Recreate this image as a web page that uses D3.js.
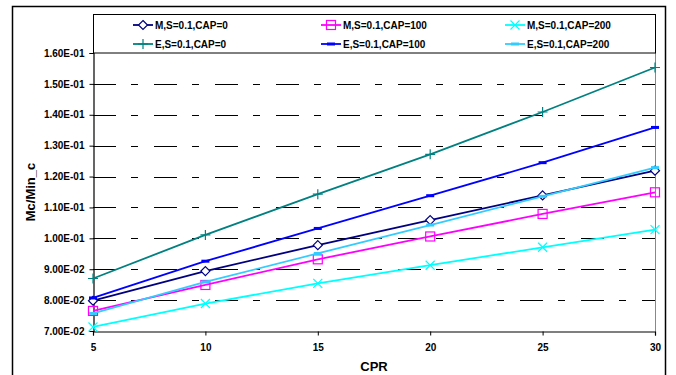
<!DOCTYPE html>
<html>
<head>
<meta charset="utf-8">
<script src="https://cdn.jsdelivr.net/npm/d3@7"></script>
<style>
  html, body { margin: 0; padding: 0; background: #fff; }
  svg { display: block; font-family: "Liberation Sans", Arial, sans-serif; }
</style>
</head>
<body>
<svg id="chart" width="676" height="375"></svg>
<script>
// CPR values along the x axis
const cpr = [5, 10, 15, 20, 25, 30];
const yTicks = [0.07, 0.08, 0.09, 0.10, 0.11, 0.12, 0.13, 0.14, 0.15, 0.16];

// Mc/Min_c for each case
const mCap0   = [0.0798, 0.0894, 0.0978, 0.1059, 0.1139, 0.1219];
const mCap100 = [0.0765, 0.0849, 0.0932, 0.1006, 0.1079, 0.1149];
const mCap200 = [0.0713, 0.0789, 0.0854, 0.0913, 0.0971, 0.1028];
const eCap0   = [0.0870, 0.1011, 0.1143, 0.1272, 0.1409, 0.1553];
const eCap100 = [0.0807, 0.0926, 0.1032, 0.1138, 0.1245, 0.1359];
const eCap200 = [0.0757, 0.0859, 0.0951, 0.1043, 0.1136, 0.1229];

const seriesNames = ["M,S=0.1,CAP=0", "M,S=0.1,CAP=100", "M,S=0.1,CAP=200",
                     "E,S=0.1,CAP=0", "E,S=0.1,CAP=100", "E,S=0.1,CAP=200"];
const seriesValues = [mCap0, mCap100, mCap200, eCap0, eCap100, eCap200];
const seriesColors = ["#000080", "#FF00FF", "#00FFFF", "#008080", "#0000FF", "#33CCFF"];
const seriesMarkers = ["diamond", "square", "x", "plus", "dash", "dash"];

const svg = d3.select("#chart");
const plot = { left: 93, right: 655, top: 53, bottom: 331 };

const x = d3.scaleLinear().domain([5, 30]).range([plot.left, plot.right]);
const y = d3.scaleLinear().domain([0.07, 0.16]).range([plot.bottom, plot.top]);

// outer chart frame
svg.append("rect")
  .attr("x", 12.5).attr("y", 6.5).attr("width", 653).attr("height", 380)
  .attr("fill", "none").attr("stroke", "#000").attr("stroke-width", 1.5);

// dashed horizontal gridlines
svg.append("g")
  .selectAll("line")
  .data(yTicks.filter(v => v > 0.07 && v < 0.16))
  .join("line")
  .attr("x1", plot.left).attr("x2", plot.right)
  .attr("y1", d => Math.round(y(d)) + 0.5).attr("y2", d => Math.round(y(d)) + 0.5)
  .attr("stroke", "#000").attr("stroke-width", 1)
  .attr("stroke-dasharray", "23,15,7,16");

// right edge of the plot area
svg.append("line")
  .attr("x1", plot.right + 0.5).attr("x2", plot.right + 0.5)
  .attr("y1", plot.top).attr("y2", plot.bottom)
  .attr("stroke", "#888").attr("stroke-width", 1);

// y axis
const yAxis = d3.axisLeft(y).tickValues(yTicks)
  .tickFormat(d => {
    const s = d.toExponential(2).toUpperCase();      // e.g. 1.60E-1
    return s.replace(/E([+-])(\d)$/, "E$10$2");
  })
  .tickSize(4).tickPadding(5);
const gy = svg.append("g").attr("transform", `translate(${plot.left + 0.5},0)`).call(yAxis);
gy.select(".domain").attr("stroke", "#000").attr("stroke-width", 1.2);
gy.selectAll(".tick line").attr("stroke", "#000");
gy.selectAll("text").attr("font-size", 10).attr("font-weight", "bold").attr("fill", "#000")
  .attr("font-family", "Liberation Sans, Arial, sans-serif");

// x axis
const xAxis = d3.axisBottom(x).tickValues(cpr).tickSize(4).tickPadding(8);
const gx = svg.append("g").attr("transform", `translate(0,${plot.bottom + 0.5})`).call(xAxis);
gx.select(".domain").attr("stroke", "#000").attr("stroke-width", 1.2);
gx.selectAll(".tick line").attr("stroke", "#000");
gx.selectAll("text").attr("font-size", 10).attr("font-weight", "bold").attr("fill", "#000")
  .attr("font-family", "Liberation Sans, Arial, sans-serif");

// axis titles
svg.append("text")
  .attr("x", (plot.left + plot.right) / 2).attr("y", 371)
  .attr("text-anchor", "middle").attr("font-size", 13).attr("font-weight", "bold")
  .text("CPR");
svg.append("text")
  .attr("transform", `translate(35,${(plot.top + plot.bottom) / 2}) rotate(-90)`)
  .attr("text-anchor", "middle").attr("font-size", 13).attr("font-weight", "bold")
  .text("Mc/Min_c");

// marker drawing
function drawMarker(g, type, color) {
  if (type === "diamond") {
    g.append("path").attr("d", "M0,-4.5L4.5,0L0,4.5L-4.5,0Z")
      .attr("fill", "#fff").attr("stroke", color).attr("stroke-width", 1.2);
  } else if (type === "square") {
    g.append("rect").attr("x", -4.5).attr("y", -4.5).attr("width", 9).attr("height", 9)
      .attr("fill", "none").attr("stroke", color).attr("stroke-width", 1.2);
  } else if (type === "x") {
    g.append("path").attr("d", "M-4.5,-4.5L4.5,4.5M-4.5,4.5L4.5,-4.5")
      .attr("stroke", color).attr("stroke-width", 1.2);
  } else if (type === "plus") {
    g.append("path").attr("d", "M-5,0L5,0M0,-5L0,5")
      .attr("stroke", color).attr("stroke-width", 1.2);
  } else if (type === "dash") {
    g.append("rect").attr("x", -4).attr("y", -1.5).attr("width", 8).attr("height", 3)
      .attr("fill", color);
  }
}

// series lines and markers
const line = d3.line().x((d, i) => x(cpr[i])).y(d => y(d));
seriesValues.forEach((vals, si) => {
  const g = svg.append("g");
  g.append("path").datum(vals).attr("d", line)
    .attr("fill", "none").attr("stroke", seriesColors[si]).attr("stroke-width", 1.8);
  vals.forEach((v, i) => {
    const mg = g.append("g").attr("transform", `translate(${x(cpr[i])},${y(v)})`);
    drawMarker(mg, seriesMarkers[si], seriesColors[si]);
  });
});

// legend
const legend = svg.append("g");
legend.append("rect")
  .attr("x", plot.left + 0.5).attr("y", 14.5)
  .attr("width", plot.right - plot.left).attr("height", plot.top - 14.5)
  .attr("fill", "#fff").attr("stroke", "#000").attr("stroke-width", 1);
const legCols = [133, 321, 505];
const legRows = [25, 44];
seriesNames.forEach((name, i) => {
  const col = i % 3, row = Math.floor(i / 3);
  const lx = legCols[col], ly = legRows[row];
  const g = legend.append("g");
  g.append("line").attr("x1", lx).attr("x2", lx + 20).attr("y1", ly).attr("y2", ly)
    .attr("stroke", seriesColors[i]).attr("stroke-width", 1.8);
  const mg = g.append("g").attr("transform", `translate(${lx + 10},${ly})`);
  drawMarker(mg, seriesMarkers[i], seriesColors[i]);
  g.append("text").attr("x", lx + 22).attr("y", ly + 3.5)
    .attr("font-size", 10).attr("font-weight", "bold").text(name);
});
</script>
</body>
</html>
